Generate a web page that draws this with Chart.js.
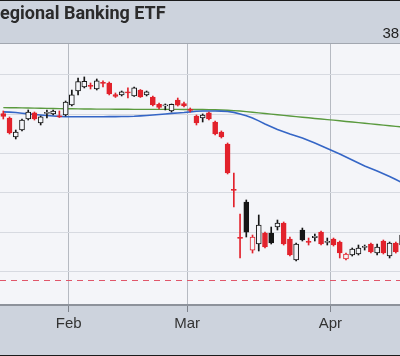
<!DOCTYPE html>
<html><head><meta charset="utf-8">
<script src="https://cdn.jsdelivr.net/npm/chart.js@4.4.0/dist/chart.umd.min.js"></script>
<style>html,body{margin:0;padding:0;background:#cdd3dd;overflow:hidden}#wrap{width:400px;height:356px;position:relative}canvas{display:block}</style>
</head><body><div id="wrap"><canvas id="c" width="400" height="356"></canvas></div>
<script>
const titleText = 'Regional Banking ETF';
const headerValue = '38';
const dates = [
 '2023-01-17','2023-01-18','2023-01-19','2023-01-20','2023-01-23','2023-01-24','2023-01-25','2023-01-26','2023-01-27','2023-01-30','2023-01-31',
 '2023-02-01','2023-02-02','2023-02-03','2023-02-06','2023-02-07','2023-02-08','2023-02-09','2023-02-10','2023-02-13','2023-02-14','2023-02-15','2023-02-16','2023-02-17','2023-02-21','2023-02-22','2023-02-23','2023-02-24','2023-02-27','2023-02-28',
 '2023-03-01','2023-03-02','2023-03-03','2023-03-06','2023-03-07','2023-03-08','2023-03-09','2023-03-10','2023-03-13','2023-03-14','2023-03-15','2023-03-16','2023-03-17','2023-03-20','2023-03-21','2023-03-22','2023-03-23','2023-03-24','2023-03-27','2023-03-28','2023-03-29','2023-03-30','2023-03-31',
 '2023-04-03','2023-04-04','2023-04-05','2023-04-06','2023-04-10','2023-04-11','2023-04-12','2023-04-13','2023-04-14','2023-04-17','2023-04-18','2023-04-19'
];
const openP = [60.10,59.53,57.11,58.00,59.40,60.17,58.89,60.10,60.04,59.78,
 59.91,61.18,62.96,63.47,63.66,63.22,64.05,63.98,62.52,62.46,
 62.84,62.33,63.09,62.46,62.20,61.25,61.05,60.42,61.82,61.37,
 60.61,59.78,59.53,60.17,59.02,57.75,56.22,50.43,44.32,48.84,
 42.73,43.50,44.89,44.89,45.66,46.17,44.13,41.46,45.28,43.82,
 44.32,45.02,43.69,44.13,43.75,41.59,42.10,42.23,43.05,43.50,
 42.35,43.88,41.97,43.63,43.37];
const highP = [60.42,59.66,58.00,59.40,60.55,60.29,59.78,60.55,60.55,60.42,
 61.69,63.09,64.62,64.75,63.98,64.49,64.24,64.11,62.71,62.96,
 63.35,63.47,63.15,62.96,62.33,61.44,61.31,61.31,62.07,61.56,
 60.80,59.91,60.04,60.29,59.15,57.88,56.35,52.53,47.31,49.10,
 44.64,47.19,45.02,45.66,46.55,46.30,44.39,43.63,45.53,44.26,
 44.77,45.15,44.26,44.26,43.88,42.35,42.99,43.37,43.37,43.63,
 43.50,44.01,43.75,43.75,44.89];
const lowP = [59.40,57.49,56.86,57.88,59.27,59.27,58.64,59.53,59.91,59.59,
 59.78,61.05,62.46,63.35,63.22,63.09,63.47,62.46,62.14,62.33,
 62.07,62.27,62.14,62.33,61.05,60.67,60.55,60.29,61.05,60.93,
 60.29,58.64,59.02,59.27,57.37,56.98,52.41,48.21,41.72,44.39,
 42.35,42.61,42.99,43.50,45.28,43.37,41.97,41.34,43.88,43.37,
 43.88,43.37,43.37,43.24,41.72,41.46,41.97,42.10,42.73,42.35,
 42.10,42.23,41.72,42.35,43.24];
const closeP = [59.72,57.62,57.75,59.27,60.29,59.40,59.66,60.17,60.42,59.66,
 61.56,62.46,64.17,64.20,63.54,64.24,63.92,62.58,62.27,62.84,
 62.71,63.35,62.20,62.84,61.18,60.86,61.12,61.25,61.16,61.05,
 60.48,58.89,59.91,59.40,57.49,57.11,52.53,50.30,44.20,45.02,
 44.39,45.92,43.12,43.63,46.17,43.50,42.10,43.50,44.01,43.69,
 44.39,43.50,43.75,43.37,42.35,42.23,42.86,42.99,43.12,42.48,
 43.12,42.35,43.63,42.48,44.64];
const ma50 = [60.31,60.27,60.23,60.14,60.05,59.97,59.90,59.84,59.78,59.73,
 59.69,59.68,59.68,59.68,59.68,59.69,59.69,59.70,59.70,59.71,
 59.72,59.75,59.80,59.85,59.91,59.98,60.04,60.11,60.17,60.23,
 60.31,60.38,60.41,60.42,60.42,60.40,60.36,60.24,60.04,59.80,
 59.53,59.16,58.77,58.42,58.07,57.78,57.49,57.23,56.98,56.66,
 56.35,56.00,55.65,55.30,54.95,54.57,54.19,53.80,53.42,53.10,
 52.79,52.44,52.09,51.70,51.32];
const ma200 = [60.85,60.84,60.83,60.81,60.80,60.78,60.77,60.75,60.74,60.72,
 60.71,60.70,60.69,60.68,60.67,60.66,60.65,60.65,60.64,60.64,
 60.64,60.63,60.63,60.63,60.63,60.62,60.62,60.62,60.62,60.61,
 60.61,60.61,60.60,60.59,60.57,60.55,60.51,60.47,60.41,60.34,
 60.26,60.18,60.10,60.02,59.94,59.86,59.78,59.70,59.62,59.55,
 59.47,59.40,59.32,59.25,59.17,59.09,59.01,58.94,58.86,58.78,
 58.70,58.62,58.54,58.46,58.38];
const monthStarts = ['2023-02-01','2023-03-01','2023-04-03'];
const monthLabels = ['Feb','Mar','Apr'];
const yGridValues = [40,45,50,55,60,65];
const priceLine = 38.92;

const RED='#e2222c', BLACK='#161616', PLOTBG='#f4f5f9', HEAD='#cdd3dd';
const up = closeP.map((c,i)=>c>openP[i]);
const redDay = closeP.map((c,i)=>c < (i>0?closeP[i-1]:openP[i]));
const col = redDay.map(r=>r?RED:BLACK);
const tickPos = monthStarts.map(d=>dates.indexOf(d)-0.5);

const deco = {
  id:'deco',
  beforeDraw(chart){
    const {ctx,chartArea:a}=chart;
    ctx.save();
    ctx.fillStyle=HEAD; ctx.fillRect(0,0,chart.width,chart.height);
    ctx.fillStyle=PLOTBG; ctx.fillRect(a.left,a.top,a.right-a.left,a.bottom-a.top);
    ctx.restore();
  },
  beforeDatasetsDraw(chart){
    const {ctx,chartArea:a,scales}=chart;
    const y=Math.round(scales.y.getPixelForValue(priceLine))+0.5;
    ctx.save();
    ctx.strokeStyle='#e0566a'; ctx.lineWidth=1; ctx.setLineDash([6,5]);
    ctx.beginPath(); ctx.moveTo(a.left,y); ctx.lineTo(a.right,y); ctx.stroke();
    ctx.restore();
  },
  afterDraw(chart){
    const {ctx,chartArea:a}=chart;
    ctx.save();
    ctx.fillStyle='#a2a7b0'; ctx.fillRect(0,a.top-1,chart.width,1);
    ctx.fillStyle='#1b1b1b'; ctx.fillRect(0,0,chart.width,1); ctx.fillRect(0,chart.height-1,chart.width,1);
    ctx.font='bold 18px Roboto'; ctx.fillStyle='#2b2b2b'; ctx.textBaseline='alphabetic'; ctx.textAlign='left';
    const rw=ctx.measureText(titleText.charAt(0)).width;
    ctx.fillText(titleText, -rw, 18.5);
    ctx.font='15px "Liberation Sans"'; ctx.fillStyle='#222';
    ctx.fillText(headerValue, 382.5, 37.5);
    ctx.restore();
  }
};

new Chart(document.getElementById('c'),{
  data:{datasets:[
    {type:'bar',label:'wick',data:dates.map((d,i)=>({x:i,y:[lowP[i],highP[i]]})),
     backgroundColor:col,barThickness:1,grouped:false,order:3},
    {type:'bar',label:'body',data:dates.map((d,i)=>({x:i,y:[openP[i],closeP[i]]})),
     backgroundColor:up.map((u,i)=>u?PLOTBG:col[i]),borderColor:col,borderWidth:1,borderSkipped:false,
     barThickness:5,minBarLength:1.2,grouped:false,order:2},
    {type:'line',label:'MA50',data:dates.map((d,i)=>({x:i,y:ma50[i]})),borderColor:'#3566c6',borderWidth:1.6,pointRadius:0,order:4},
    {type:'line',label:'MA200',data:dates.map((d,i)=>({x:i,y:ma200[i]})),borderColor:'#5a9a3e',borderWidth:1.4,pointRadius:0,order:5}
  ]},
  options:{
    responsive:false,animation:false,devicePixelRatio:1,
    layout:{padding:{top:44,left:0,right:0,bottom:0}},
    plugins:{legend:{display:false},tooltip:{enabled:false}},
    scales:{
      x:{type:'linear',min:-0.53,max:63.67,offset:false,
        afterBuildTicks(s){s.ticks=tickPos.map(v=>({value:v}));},
        afterFit(s){s.height=51;},
        ticks:{autoSkip:false,maxRotation:0,padding:3,color:'#333',font:{family:'"Liberation Sans"',size:15},
          callback(v){const k=tickPos.indexOf(v);return k>=0?monthLabels[k]:'';}},
        grid:{offset:false,color:'#b6bac2',tickLength:7,tickColor:'#7d828b',lineWidth:1},
        border:{display:true,color:'#8d929b',width:2}
      },
      y:{type:'linear',position:'right',min:35.74,max:68.94,
        afterBuildTicks(s){s.ticks=yGridValues.map(v=>({value:v}));},
        afterFit(s){s.width=0;},
        ticks:{display:false},
        grid:{color:'#d7dae1',drawTicks:false},
        border:{display:false}
      }
    }
  },
  plugins:[deco]
});
</script></body></html>
